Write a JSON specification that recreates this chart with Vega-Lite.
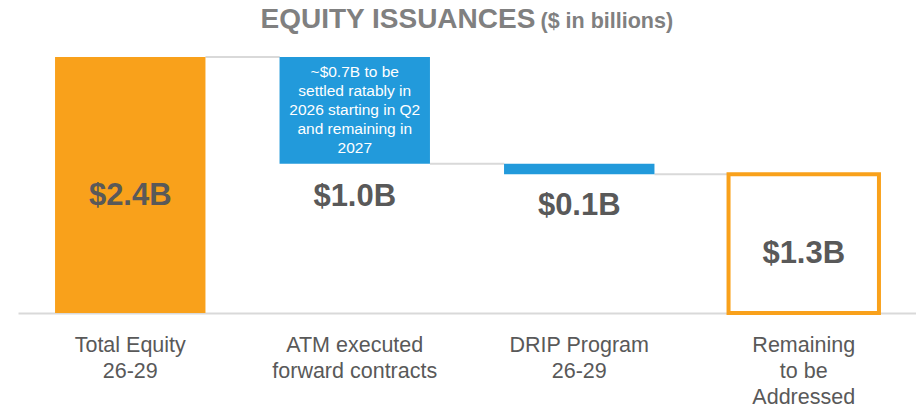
{
  "$schema": "https://vega.github.io/schema/vega-lite/v6.json",
  "width": 898,
  "height": 256,
  "autosize": "none",
  "padding": {"left": 18, "top": 57, "right": 0, "bottom": 94},
  "background": "#ffffff",
  "config": {"view": {"stroke": null}, "font": "Liberation Sans"},
  "resolve": {"axis": {"x": "independent"}},
  "datasets": {
    "bars": [
      {"cat": "Total Equity|26-29", "start": 0, "end": 2.4, "kind": "total", "label": "$2.4B", "labelAt": 1.1},
      {"cat": "ATM executed|forward contracts", "start": 2.4, "end": 1.4, "kind": "step", "label": "$1.0B", "labelAt": 1.09},
      {"cat": "DRIP Program|26-29", "start": 1.4, "end": 1.3, "kind": "step", "label": "$0.1B", "labelAt": 1.0},
      {"cat": "Remaining|to be|Addressed", "start": 0, "end": 1.3, "kind": "remaining", "label": "$1.3B", "labelAt": 0.55}
    ],
    "links": [
      {"from": "Total Equity|26-29", "to": "ATM executed|forward contracts", "level": 2.4},
      {"from": "ATM executed|forward contracts", "to": "DRIP Program|26-29", "level": 1.4},
      {"from": "DRIP Program|26-29", "to": "Remaining|to be|Addressed", "level": 1.3}
    ],
    "notes": [
      {"cat": "ATM executed|forward contracts", "note": "~$0.7B to be|settled ratably in|2026 starting in Q2|and remaining in|2027", "at": 1.9}
    ]
  },
  "layer": [
    {
      "data": {"name": "links"},
      "mark": {"type": "rule", "color": "#d9d9d9", "strokeWidth": 2, "x2Offset": -75},
      "encoding": {
        "x": {
          "field": "from", "type": "nominal", "bandPosition": 1, "sort": null,
          "scale": {"domain": ["Total Equity|26-29", "ATM executed|forward contracts", "DRIP Program|26-29", "Remaining|to be|Addressed"], "paddingInner": 0.33, "paddingOuter": 0.165},
          "axis": {
            "orient": "top", "domain": false, "ticks": false, "labels": false, "grid": false,
            "title": "EQUITY ISSUANCES", "titleFont": "Liberation Sans", "titleFontSize": 28, "titleFontWeight": "bold",
            "titleColor": "#808080", "titleAlign": "left", "titleBaseline": "alphabetic", "titleAngle": 0,
            "titleX": 242, "titleY": -30
          }
        },
        "x2": {"field": "to"},
        "y": {
          "field": "level", "type": "quantitative",
          "scale": {"domain": [0, 2.4], "nice": false, "zero": true},
          "axis": {
            "domain": false, "ticks": false, "labels": false, "grid": false,
            "title": "($ in billions)", "titleFont": "Liberation Sans", "titleFontSize": 21.5, "titleFontWeight": "bold",
            "titleColor": "#808080", "titleAlign": "left", "titleBaseline": "alphabetic", "titleAngle": 0,
            "titleX": 522, "titleY": -30
          }
        }
      }
    },
    {
      "data": {"name": "bars"},
      "transform": [{"filter": "datum.kind != 'remaining'"}],
      "mark": {"type": "bar"},
      "encoding": {
        "x": {
          "field": "cat", "type": "nominal", "sort": null,
          "axis": {
            "title": null, "ticks": false, "domainColor": "#d9d9d9", "domainWidth": 2,
            "labelExpr": "split(datum.value, '|')", "labelFont": "Liberation Sans", "labelFontSize": 21.5,
            "labelLineHeight": 26, "labelColor": "#595959", "labelPadding": 21, "labelAngle": 0
          }
        },
        "y": {"field": "start", "type": "quantitative"},
        "y2": {"field": "end"},
        "color": {"field": "kind", "type": "nominal", "scale": {"domain": ["total", "step"], "range": ["#F9A11B", "#229ADB"]}, "legend": null}
      }
    },
    {
      "data": {"name": "bars"},
      "transform": [{"filter": "datum.kind == 'remaining'"}],
      "mark": {"type": "bar", "fill": "#ffffff", "stroke": "#F9A11B", "strokeWidth": 4},
      "encoding": {
        "x": {"field": "cat", "type": "nominal", "sort": null, "axis": null},
        "y": {"field": "start", "type": "quantitative"},
        "y2": {"field": "end"}
      }
    },
    {
      "data": {"name": "bars"},
      "mark": {"type": "text", "font": "Liberation Sans", "fontSize": 31, "fontWeight": "bold", "color": "#595959", "baseline": "middle"},
      "encoding": {
        "x": {"field": "cat", "type": "nominal", "sort": null, "axis": null},
        "y": {"field": "labelAt", "type": "quantitative"},
        "text": {"field": "label"}
      }
    },
    {
      "data": {"name": "notes"},
      "mark": {"type": "text", "font": "Liberation Sans", "fontSize": 15.5, "color": "#ffffff", "baseline": "middle", "lineBreak": "|", "lineHeight": 19, "dy": -38},
      "encoding": {
        "x": {"field": "cat", "type": "nominal", "sort": null, "axis": null},
        "y": {"field": "at", "type": "quantitative"},
        "text": {"field": "note"}
      }
    }
  ]
}
